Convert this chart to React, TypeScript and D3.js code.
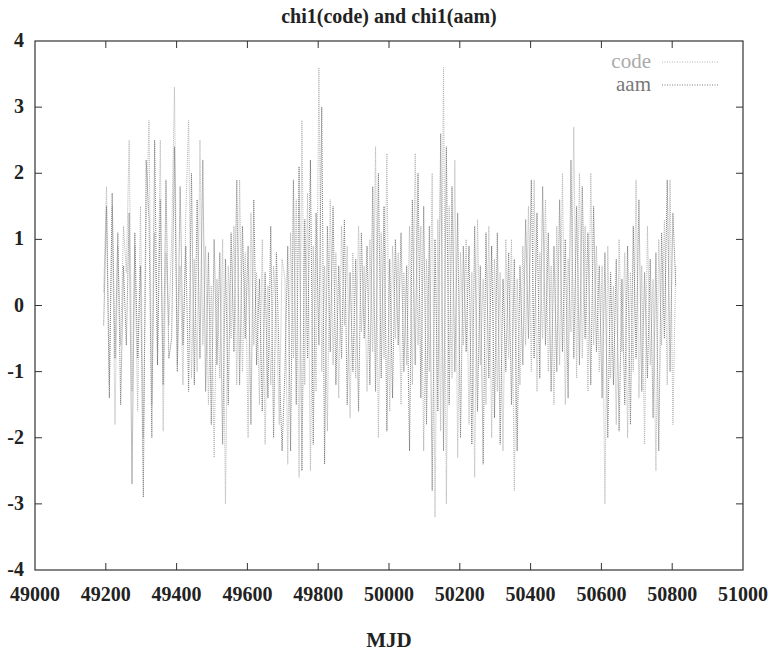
import React from "react";
import * as d3 from "d3";

const startMJD = 49194;
const stepDays = 8;

const codeValues: number[] = [
  0.2, 1.8, -1.2, 1.5, -1.8, 0.9, -0.6, 1.2,
  0.5, 2.5, -1.3, 0.9, -1.6, 1.5, -2.0, 1.2,
  2.8, -1.5, 1.1, -0.7, 2.5, -1.9, 0.8, -0.3,
  1.0, 3.3, -0.9, 0.6, -1.2, 1.4, 2.8, -1.1,
  0.7, -1.0, 2.5, -0.6, 0.9, -1.5, 0.3, -2.3,
  0.4, -1.1, 1.0, -3.0, 0.6, -0.5, 1.2, -1.2,
  1.9, -1.0, 0.8, -2.0, 1.4, -0.6, 0.5, -1.5,
  1.0, -2.1, 0.3, -1.2, 0.6, -0.2, -1.8, 0.7,
  0.4, -2.4, 1.1, -0.8, 1.6, -2.6, 2.8, -1.2,
  1.7, -2.5, 0.9, -1.3, 3.6, -1.0, 0.6, -1.9,
  1.6, -0.9, 0.8, -1.4, 1.2, -0.3, 0.9, -1.7,
  0.8, -1.1, 1.2, -0.4, 0.6, -1.3, 1.0, -0.7,
  2.4, -2.0, 1.1, -0.8, 2.3, -1.6, 0.9, -0.5,
  0.8, -1.5, 0.5, -0.9, 1.2, -1.2, 2.3, -0.6,
  1.2, -2.2, 0.7, -1.0, 2.0, -3.2, 1.3, -1.9,
  3.6, -3.0, 1.5, -1.1, 2.2, -2.3, 0.8, -0.6,
  1.0, -1.8, 0.5, -2.6, 1.3, -0.9, 0.4, -1.5,
  1.2, -2.0, 0.7, -1.3, 0.5, -2.2, 1.0, -0.8,
  1.0, -2.8, 0.4, -1.2, 0.9, -0.6, 1.5, -1.0,
  1.9, -1.3, 0.8, -0.5, 1.6, -1.0, 0.6, -1.5,
  1.2, -0.9, 2.0, -1.5, 0.7, -0.4, 2.7, -1.1,
  2.0, -0.8, 1.2, -1.3, 2.0, -0.6, 0.9, -1.0,
  0.6, -3.0, 0.9, -1.1, 0.3, -1.8, 1.0, -0.7,
  0.8, -2.0, 0.5, -1.0, 1.9, -1.4, 0.6, -2.1,
  1.2, -0.9, 0.4, -2.5, 1.0, -0.6, 1.3, -1.2,
  1.9, -1.8, 0.6,
];

const aamValues: number[] = [
  -0.3, 1.5, -1.4, 1.7, -0.8, 1.1, -1.5, 0.6,
  -0.6, 1.4, -2.7, 1.1, -0.8, 0.6, -2.9, 2.2,
  1.3, -2.0, 2.5, -0.9, 1.6, -1.2, 1.9, -0.8,
  -0.5, 2.4, -1.0, 1.8, -0.6, 0.9, -1.3, 2.0,
  -1.2, 1.6, -0.8, 2.2, -1.3, 0.8, -1.8, 1.0,
  -0.9, 0.8, -2.1, 0.7, -1.5, 1.1, -0.7, 1.9,
  -1.2, 1.2, -0.5, 0.9, -1.8, 1.6, -0.9, 0.4,
  -1.6, 0.5, -1.4, 1.2, -2.0, 0.8, -0.9, -2.2,
  -1.0, 0.9, -2.2, 1.9, -1.5, 2.1, -2.5, 1.3,
  -0.8, 2.2, -2.1, 1.4, -0.6, 3.0, -2.4, 1.2,
  -0.7, 1.5, -1.2, 0.6, -0.8, 1.3, -1.5, 0.5,
  -1.0, 0.7, -1.6, 1.1, -0.5, 0.9, -1.2, 1.8,
  -1.3, 2.0, -1.1, 1.5, -1.9, 0.7, -1.4, 1.0,
  -0.6, 1.1, -1.0, 0.6, -2.2, 1.6, -0.9, 2.0,
  -1.4, 1.5, -1.8, 1.2, -2.8, 1.0, -1.6, 2.6,
  -2.2, 2.4, -1.5, 1.8, -1.0, 1.4, -2.0, 0.9,
  -0.7, 0.9, -2.1, 1.2, -1.6, 0.6, -2.4, 1.1,
  -1.1, 0.9, -1.7, 1.1, -2.1, 0.4, -1.0, 0.8,
  -1.5, 0.7, -2.2, 0.6, -0.9, 1.3, -0.5, 1.9,
  -0.8, 1.4, -1.1, 1.8, -0.6, 1.1, -1.3, 0.9,
  -1.0, 1.6, -0.7, 1.0, -1.4, 2.2, -0.8, 1.5,
  -0.9, 1.8, -0.5, 1.1, -1.2, 1.5, -0.7, 0.6,
  -1.4, 0.8, -2.0, 0.5, -1.2, 0.7, -1.9, 0.4,
  -1.5, 0.9, -1.8, 1.2, -0.8, 1.6, -1.3, 0.5,
  -1.1, 0.7, -1.7, 0.8, -2.2, 1.1, -0.5, 1.9,
  -1.0, 1.4, 0.3,
];

const xTicks = [49000, 49200, 49400, 49600, 49800, 50000, 50200, 50400, 50600, 50800, 51000];
const yTicks = [-4, -3, -2, -1, 0, 1, 2, 3, 4];
const seriesNames = ["code", "aam"];
const seriesColors = ["#b4b4b4", "#7a7a7a"];

const W = 774;
const H = 652;
const left = 35;
const right = 743;
const top = 41;
const bottom = 570;
const font = '"Liberation Serif", "DejaVu Serif", "Noto Serif", serif';

export default function App() {
  const x = d3.scaleLinear().domain([49000, 51000]).range([left, right]);
  const y = d3.scaleLinear().domain([-4, 4]).range([bottom, top]);
  const line = d3
    .line<number>()
    .x((_, i) => x(startMJD + i * stepDays))
    .y((v) => y(v));
  const series = [codeValues, aamValues];
  const tickLen = 7;
  const txt = { fontFamily: font } as React.CSSProperties;

  return (
    <svg width={W} height={H} style={{ position: "absolute", left: 0, top: 0, background: "#fff" }}>
      <rect x={0} y={0} width={W} height={H} fill="#fff" />
      <text x={389} y={23} textAnchor="middle" style={txt} fontWeight="bold" fontSize={20} fill="#222">
        chi1(code) and chi1(aam)
      </text>
      {series.map((s, k) => (
        <path
          key={k}
          d={line(s) || ""}
          fill="none"
          stroke={seriesColors[k]}
          strokeWidth={1}
          strokeDasharray="1,1"
        />
      ))}
      <rect x={left} y={top} width={right - left} height={bottom - top} fill="none" stroke="#333" strokeWidth={1.2} />
      {xTicks.slice(1, -1).map((t) => (
        <g key={t}>
          <line x1={x(t)} x2={x(t)} y1={bottom} y2={bottom - tickLen} stroke="#333" />
          <line x1={x(t)} x2={x(t)} y1={top} y2={top + tickLen} stroke="#333" />
        </g>
      ))}
      {yTicks.slice(1, -1).map((t) => (
        <g key={t}>
          <line x1={left} x2={left + tickLen} y1={y(t)} y2={y(t)} stroke="#333" />
          <line x1={right} x2={right - tickLen} y1={y(t)} y2={y(t)} stroke="#333" />
        </g>
      ))}
      {xTicks.map((t) => (
        <text key={t} x={x(t)} y={601} textAnchor="middle" style={txt} fontWeight="bold" fontSize={20} fill="#222">
          {t}
        </text>
      ))}
      {yTicks.map((t) => (
        <text key={t} x={24} y={y(t) + 6} textAnchor="end" style={txt} fontWeight="bold" fontSize={20} fill="#222">
          {t}
        </text>
      ))}
      <text x={389} y={647} textAnchor="middle" style={txt} fontWeight="bold" fontSize={21} fill="#222">
        MJD
      </text>
      {seriesNames.map((n, k) => (
        <g key={n}>
          <text x={651} y={68 + k * 23} textAnchor="end" style={txt} fontSize={21} fill={k === 0 ? "#aaa" : "#777"}>
            {n}
          </text>
          <line x1={662} x2={718} y1={62 + k * 23} y2={62 + k * 23} stroke={seriesColors[k]} strokeDasharray="1,1.5" />
        </g>
      ))}
    </svg>
  );
}
